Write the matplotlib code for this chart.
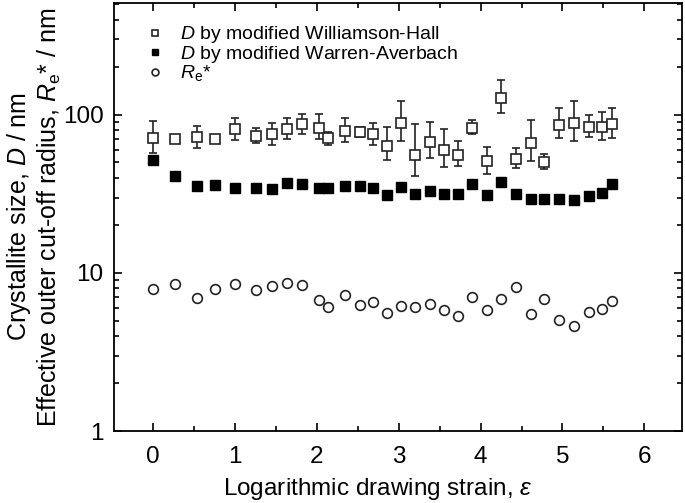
import matplotlib
matplotlib.use("Agg")
import matplotlib.pyplot as plt
from matplotlib.ticker import FixedLocator, FuncFormatter, MultipleLocator, LogLocator, NullFormatter
import numpy as np

plt.rcParams['font.family'] = ['Liberation Sans', 'DejaVu Sans']
plt.rcParams['mathtext.fontset'] = 'custom'
plt.rcParams['mathtext.rm'] = 'Liberation Sans'
plt.rcParams['mathtext.it'] = 'Liberation Sans:italic'

# logarithmic drawing strain
strain = [0.0, 0.27, 0.53, 0.76, 1.0, 1.25, 1.45, 1.63, 1.82, 2.02, 2.13,
          2.34, 2.52, 2.69, 2.86, 3.03, 3.20, 3.38, 3.55, 3.72, 3.90,
          4.08, 4.25, 4.43, 4.61, 4.78, 4.96, 5.14, 5.32, 5.48, 5.60]

# D by modified Williamson-Hall (nm) with error bar ends
wh = [71.2, 70.2, 72.2, 70.2, 81.5, 73.6, 75.5, 81.9, 87.3, 83.1, 71.2,
      79.2, 78.4, 75.5, 63.9, 88.6, 55.8, 67.5, 59.8, 56.1, 83.1,
      51.2, 127.6, 52.9, 66.2, 50.6, 86.8, 88.6, 84.3, 84.0, 87.7]
wh_lo = [57.7, 66.2, 62.1, 68.0, 69.2, 66.5, 64.9, 70.5, 75.8, 70.2, 64.6,
         67.5, 72.9, 64.6, 51.7, 68.8, 40.9, 53.4, 46.7, 47.5, 75.5,
         42.3, 102.5, 46.2, 51.2, 45.7, 71.2, 68.8, 72.6, 69.2, 71.8]
wh_hi = [91.6, 73.6, 84.8, 72.5, 96.1, 83.1, 88.6, 95.3, 101.9, 101.0, 78.4,
         95.3, 84.0, 89.4, 84.0, 122.7, 87.7, 90.3, 81.9, 68.2, 92.5,
         62.7, 166.6, 61.5, 93.0, 56.7, 110.2, 123.2, 100.0, 105.0, 110.2]

# D by modified Warren-Averbach (nm)
wa = [51.7, 41.3, 35.5, 35.9, 34.5, 34.4, 34.2, 37.1, 36.6, 34.7, 34.4,
      35.7, 35.5, 34.7, 31.2, 35.0, 31.8, 33.2, 31.8, 31.8, 36.4,
      31.0, 37.6, 31.4, 29.3, 29.3, 29.5, 29.0, 30.7, 31.9, 36.6]

# effective outer cut-off radius Re* (nm)
re = [7.88, 8.52, 6.98, 7.95, 8.52, 7.80, 8.24, 8.68, 8.43, 6.75, 6.09,
      7.22, 6.27, 6.53, 5.61, 6.21, 6.07, 6.34, 5.86, 5.37, 7.05,
      5.83, 6.84, 8.12, 5.51, 6.88, 5.02, 4.64, 5.66, 5.92, 6.68]

labels = ['$D$ by modified Williamson-Hall',
          '$D$ by modified Warren-Averbach',
          '$R_\\mathrm{e}$*']

fig = plt.figure(figsize=(6.85, 5.03), dpi=100)
ax = fig.add_axes([0.1664, 0.1431, 0.8292, 0.8509])

wh_arr = np.array(wh)
yerr = [wh_arr - np.array(wh_lo), np.array(wh_hi) - wh_arr]
ax.errorbar(strain, wh, yerr=yerr, fmt='none', ecolor='#222222',
            elinewidth=1.2, capsize=3, capthick=1.2, zorder=2)
ax.plot(strain, wh, 's', ms=6.5, mfc='white', mec='#222222', mew=1.2,
        ls='none', label=labels[0], zorder=3)
ax.plot(strain, wa, 's', ms=7, mfc='black', mec='black',
        ls='none', label=labels[1], zorder=3)
ax.plot(strain, re, 'o', ms=7, mfc='white', mec='#222222', mew=1.2,
        ls='none', label=labels[2], zorder=3)

ax.set_yscale('log')
ax.set_xlim(-0.48, 6.46)
ax.set_ylim(1, 510)
ax.xaxis.set_major_locator(MultipleLocator(1))
ax.xaxis.set_minor_locator(MultipleLocator(0.5))
ax.yaxis.set_major_locator(FixedLocator([1, 10, 100]))
ax.yaxis.set_minor_locator(LogLocator(base=10, subs=np.arange(2, 10)))
ax.yaxis.set_major_formatter(FuncFormatter(lambda v, p: '%g' % v))
ax.yaxis.set_minor_formatter(NullFormatter())

ax.tick_params(which='both', direction='in', top=True, right=True,
               labelsize=17.5, width=1.2)
ax.tick_params(axis='x', pad=11)
ax.tick_params(axis='y', pad=7.5)
ax.tick_params(which='major', length=6)
ax.tick_params(which='minor', length=3.5)
for s in ax.spines.values():
    s.set_linewidth(1.3)

ax.set_xlabel('Logarithmic drawing strain, $\\varepsilon$', fontsize=17.5, labelpad=9)
ax.xaxis.set_label_coords(0.465, -0.105)
ax.set_ylabel('Crystallite size, $D$ / nm\nEffective outer cut-off radius, $R_\\mathrm{e}$* / nm',
              fontsize=18, linespacing=1.12, labelpad=0)

ax.legend(loc='upper left', bbox_to_anchor=(0.038, 0.968), frameon=False,
          fontsize=14, markerscale=0.7, handletextpad=0.7,
          labelspacing=-0.08, handlelength=1.2, borderaxespad=0)

fig.savefig('out.png', dpi=100)
